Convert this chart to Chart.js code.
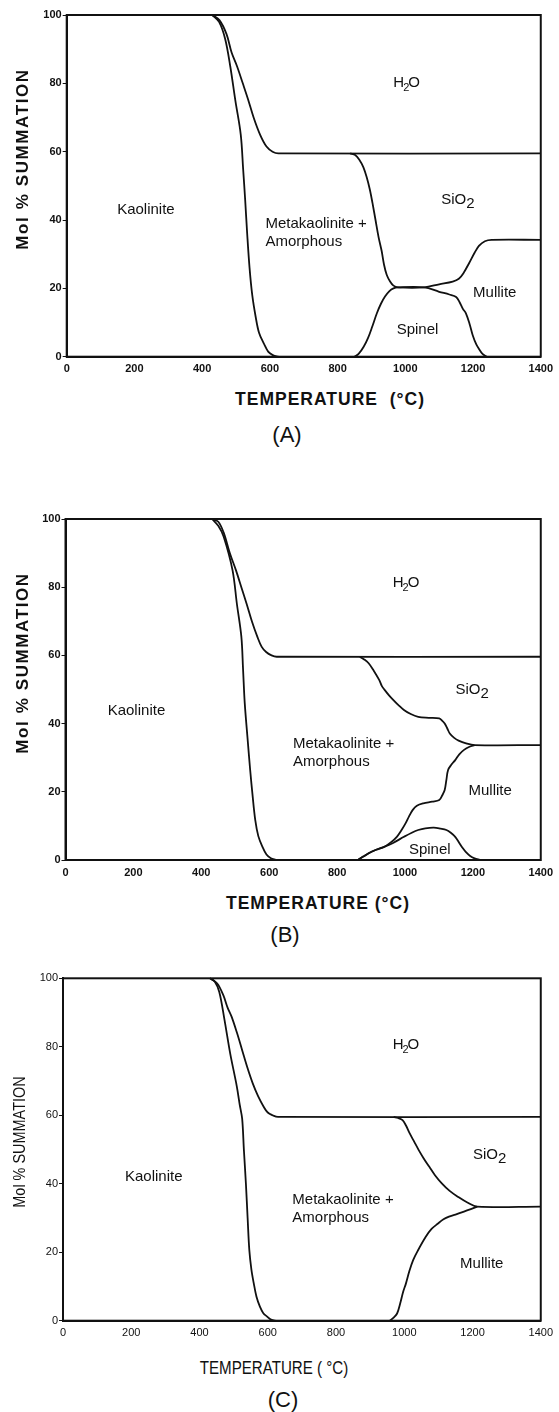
<!DOCTYPE html>
<html><head><meta charset="utf-8">
<script src="https://cdn.jsdelivr.net/npm/chart.js@4"></script>
<style>
html,body{margin:0;padding:0;background:#fff;}
body{width:559px;height:1412px;position:relative;overflow:hidden;font-family:"Liberation Sans",Arial,Helvetica,sans-serif;color:#111;}
canvas{position:absolute;left:0;}
.t{position:absolute;white-space:nowrap;transform:translate(-50%,-50%);line-height:1;}
.yt{transform:translate(-50%,-50%) rotate(-90deg);}
.heavy{font-weight:bold;font-size:17.5px;letter-spacing:1px;}
.yheavy{font-weight:bold;font-size:17px;letter-spacing:1.6px;}
.narrow{font-size:18px;transform:translate(-50%,-50%) scaleX(0.84);}
.ynarrow{font-size:17px;transform:translate(-50%,-50%) rotate(-90deg) scaleX(0.85);}
.letter{font-size:22px;}
</style></head><body>
<canvas id="cA" width="559" height="382" style="top:0;width:559px;height:382px"></canvas>
<canvas id="cB" width="559" height="385" style="top:500px;width:559px;height:385px"></canvas>
<canvas id="cC" width="559" height="385" style="top:960px;width:559px;height:385px"></canvas>

<div class="t yt yheavy" style="left:21.5px;top:159px">Mol % SUMMATION</div>
<div class="t heavy" style="left:330px;top:400px">TEMPERATURE&nbsp;&nbsp;(°C)</div>
<div class="t letter" style="left:287px;top:435px">(A)</div>

<div class="t yt yheavy" style="left:22px;top:663px">Mol % SUMMATION</div>
<div class="t heavy" style="left:318px;top:904px">TEMPERATURE (°C)</div>
<div class="t letter" style="left:285px;top:935px">(B)</div>

<div class="t ynarrow" style="left:19px;top:1142px">Mol % SUMMATION</div>
<div class="t narrow" style="left:273.5px;top:1368px">TEMPERATURE ( °C)</div>
<div class="t letter" style="left:283px;top:1400px">(C)</div>

<script>
// ---- tick values ----
const xTicks = [0, 200, 400, 600, 800, 1000, 1200, 1400];
const yTicks = [0, 20, 40, 60, 80, 100];

// ---- Panel A boundaries [temperature °C, mol %] ----
const A_kaolinite = [[430,100],[450,98],[468,93],[483,85],[498,75],[514,65],[521,55],[527,46],[533,36],[540,26],[548,18],[558,11.7],[568,7],[582,3.9],[595,1.5],[610,0.4],[625,0]];
const A_water = [[430,100],[451,98.5],[472,94.4],[487,89],[503,85],[520,80],[535,75.5],[552,70],[571,65],[590,61.5],[608,60],[625,59.5],[1400,59.5]];
const A_silica = [[837,59.5],[852,59],[865,57.5],[876,55.5],[886,52.5],[895,49],[903,45],[912,40],[921,35],[930,31],[937,27],[945,24],[955,22],[965,20.8],[978,20.3],[1056,20.3],[1100,21.2],[1140,22],[1158,22.8],[1172,24.5],[1189,27.5],[1205,30.5],[1218,32.5],[1235,33.8],[1255,34.2],[1400,34.2]];
const A_spinel = [[850,0],[862,0.8],[877,2.9],[890,5.5],[903,9],[916,12.7],[928,15.5],[940,17.6],[953,19.2],[965,20],[978,20.3],[1056,20.3],[1100,19],[1130,18.2],[1150,17.5],[1160,16],[1170,14],[1179,12.7],[1190,9.5],[1199,6.3],[1210,3.5],[1218,2.2],[1228,0.8],[1240,0]];

// ---- Panel B boundaries ----
const B_kaolinite = [[432,100],[450,98],[466,94.8],[492,85],[505,75],[518,65.5],[523,56],[528,46],[536,36],[544,26.4],[551,19],[559,11.7],[568,7],[580,3.9],[592,1.6],[605,0.5],[620,0]];
const B_water = [[432,100],[450,99.2],[466,96],[484,90],[502,85],[518,80],[533,75.3],[549,70],[565,65.5],[578,62.5],[591,61],[607,60],[622,59.6],[1400,59.6]];
const B_silica = [[867,59.6],[880,58.8],[893,57.7],[908,55.5],[924,52.8],[932,51],[940,49.9],[953,48.3],[966,46.9],[980,45.5],[997,44],[1017,42.8],[1039,42],[1070,41.7],[1101,41.5],[1110,40.8],[1117,40],[1125,38.5],[1132,37.1],[1145,35.8],[1158,35],[1180,34.2],[1205,33.7],[1400,33.7]];
const B_mullite = [[861,0],[877,1],[893,2],[915,3],[940,3.9],[960,5.3],[976,6.8],[990,8.8],[1002,10.8],[1012,12.8],[1023,14.7],[1035,15.9],[1054,16.6],[1080,17.1],[1101,17.6],[1110,19],[1117,20.5],[1122,23.5],[1127,26.4],[1137,28],[1148,29.3],[1160,31],[1174,32.3],[1190,33.2],[1205,33.7]];
const B_spinel = [[861,0],[877,1],[893,2],[915,3],[940,3.9],[965,5],[997,6.8],[1020,8],[1039,8.8],[1060,9.3],[1085,9.5],[1105,9.2],[1122,8.8],[1135,8],[1148,6.8],[1160,5],[1170,3.5],[1179,2.4],[1192,1.2],[1205,0.5],[1221,0]];

// ---- Panel C boundaries ----
const C_kaolinite = [[431,100],[445,99],[458,96],[473,88],[490,78],[509,68.6],[518,63],[525,59],[530,50],[536,40],[541,30],[546,20.6],[552,15],[559,10.9],[567,7],[577,4.1],[587,2.2],[598,1.2],[608,0.4],[622,0]];
const C_water = [[431,100],[452,98.5],[470,95],[482,91.5],[494,88.8],[510,84],[525,79],[540,74],[556,69.3],[572,65.5],[588,62.5],[600,60.8],[614,60],[630,59.5],[1400,59.5]];
const C_silica = [[969,59.5],[982,59.2],[995,58.6],[1005,57],[1016,54.7],[1029,52.3],[1042,49.9],[1057,47.4],[1073,45],[1090,42.5],[1110,40.1],[1133,37.9],[1157,36.2],[1185,34.5],[1214,33.3],[1400,33.3]];
const C_mullite = [[958,0],[968,0.8],[979,2.1],[988,5],[997,8.5],[1005,10.9],[1015,14.5],[1026,17.7],[1040,20.5],[1063,24.5],[1080,26.8],[1099,28.4],[1115,29.6],[1131,30.4],[1150,31],[1173,31.8],[1195,32.6],[1214,33.3]];

// ---- region names ----
const H2O = [{t:'H'},{t:'2',size:11,dy:5,dx:-1},{t:'O',dx:-1}];
const SiO2 = [{t:'SiO'},{t:'2',dy:4}];

const A_labels = [
  {parts:H2O, x:1004, y:80},
  {parts:SiO2, x:1155, y:45.9},
  {parts:[{t:'Kaolinite'}], x:234, y:42.9},
  {parts:[{t:'Metakaolinite +'}], x:587, y:39, align:'left'},
  {parts:[{t:'Amorphous'}], x:587, y:33.5, align:'left'},
  {parts:[{t:'Mullite'}], x:1264, y:18.7},
  {parts:[{t:'Spinel'}], x:1036, y:7.8}
];
const B_labels = [
  {parts:H2O, x:1003, y:81.2},
  {parts:SiO2, x:1198, y:49.9},
  {parts:[{t:'Kaolinite'}], x:209, y:43.8},
  {parts:[{t:'Metakaolinite +'}], x:670, y:34.2, align:'left'},
  {parts:[{t:'Amorphous'}], x:670, y:28.7, align:'left'},
  {parts:[{t:'Mullite'}], x:1251, y:20.3},
  {parts:[{t:'Spinel'}], x:1073, y:3.1}
];
const C_labels = [
  {parts:H2O, x:1005, y:80.5},
  {parts:SiO2, x:1250, y:48.4},
  {parts:[{t:'Kaolinite'}], x:266, y:42.1},
  {parts:[{t:'Metakaolinite +'}], x:672, y:35.3, align:'left'},
  {parts:[{t:'Amorphous'}], x:672, y:29.9, align:'left'},
  {parts:[{t:'Mullite'}], x:1227, y:16.6}
];

const FONT = '"Liberation Sans", Arial, Helvetica, sans-serif';

const framePlugin = {
  id: 'frame',
  afterDatasetsDraw(chart) {
    const {ctx, chartArea: a} = chart;
    ctx.save();
    ctx.strokeStyle = '#111';
    ctx.lineWidth = 2;
    ctx.strokeRect(a.left, a.top, a.right - a.left, a.bottom - a.top);
    ctx.restore();
  }
};

const regionLabels = {
  id: 'regionLabels',
  afterDatasetsDraw(chart, args, opts) {
    const {ctx} = chart;
    const xs = chart.scales.x, ys = chart.scales.y;
    ctx.save();
    ctx.fillStyle = '#111';
    ctx.textBaseline = 'middle';
    ctx.textAlign = 'left';
    for (const lab of opts.items) {
      const px = xs.getPixelForValue(lab.x), py = ys.getPixelForValue(lab.y);
      let total = 0;
      const ws = lab.parts.map(p => {
        ctx.font = (p.size || 15) + 'px ' + FONT;
        const w = ctx.measureText(p.t).width + (p.dx || 0);
        total += w;
        return w;
      });
      let cx = lab.align === 'left' ? px : px - total / 2;
      lab.parts.forEach((p, i) => {
        ctx.font = (p.size || 15) + 'px ' + FONT;
        ctx.fillText(p.t, cx + (p.dx || 0), py + (p.dy || 0));
        cx += ws[i];
      });
    }
    ctx.restore();
  }
};

function curveSet(pts) {
  return {
    data: pts.map(p => ({x: p[0], y: p[1]})),
    showLine: true,
    borderColor: '#111',
    borderWidth: 1.8,
    pointRadius: 0,
    tension: 0.35,
    clip: 4
  };
}

function makeChart(id, curves, labels, geo, heavy) {
  const tickFont = {family: FONT, size: 11, weight: heavy ? 'bold' : 'normal'};
  return new Chart(document.getElementById(id), {
    type: 'scatter',
    data: {datasets: curves.map(curveSet)},
    plugins: [framePlugin, regionLabels],
    options: {
      responsive: false,
      maintainAspectRatio: false,
      animation: false,
      events: [],
      layout: {padding: {top: geo.top - geo.cTop, right: 559 - geo.right, left: 0, bottom: 0}},
      plugins: {
        legend: {display: false},
        tooltip: {enabled: false},
        regionLabels: {items: labels}
      },
      scales: {
        x: {
          type: 'linear', min: 0, max: 1400,
          afterBuildTicks: s => { s.ticks = xTicks.map(v => ({value: v})); },
          afterFit: s => { s.height = geo.cTop + geo.cH - geo.bottom; },
          grid: {display: false, drawTicks: false},
          border: {display: true, color: '#111', width: 2},
          ticks: {padding: 6, color: '#111', font: tickFont, maxRotation: 0, autoSkip: false, callback: v => String(v)}
        },
        y: {
          type: 'linear', min: 0, max: 100,
          afterBuildTicks: s => { s.ticks = yTicks.map(v => ({value: v})); },
          afterFit: s => { s.width = geo.left; },
          grid: {display: true, drawOnChartArea: false, drawTicks: true, tickLength: 4, color: '#111', lineWidth: 1},
          border: {display: true, color: '#111', width: 2},
          ticks: {padding: 1, color: '#111', font: tickFont, autoSkip: false, callback: v => String(v)}
        }
      }
    }
  });
}

makeChart('cA', [A_kaolinite, A_water, A_silica, A_spinel], A_labels,
  {left: 66.7, right: 545.5, top: 15, bottom: 356.7, cTop: 0, cH: 382}, true);
makeChart('cB', [B_kaolinite, B_water, B_silica, B_mullite, B_spinel], B_labels,
  {left: 65.5, right: 545, top: 519, bottom: 860, cTop: 500, cH: 385}, true);
makeChart('cC', [C_kaolinite, C_water, C_silica, C_mullite], C_labels,
  {left: 63, right: 541, top: 978.3, bottom: 1320.7, cTop: 960, cH: 385}, false);
</script>
</body></html>
